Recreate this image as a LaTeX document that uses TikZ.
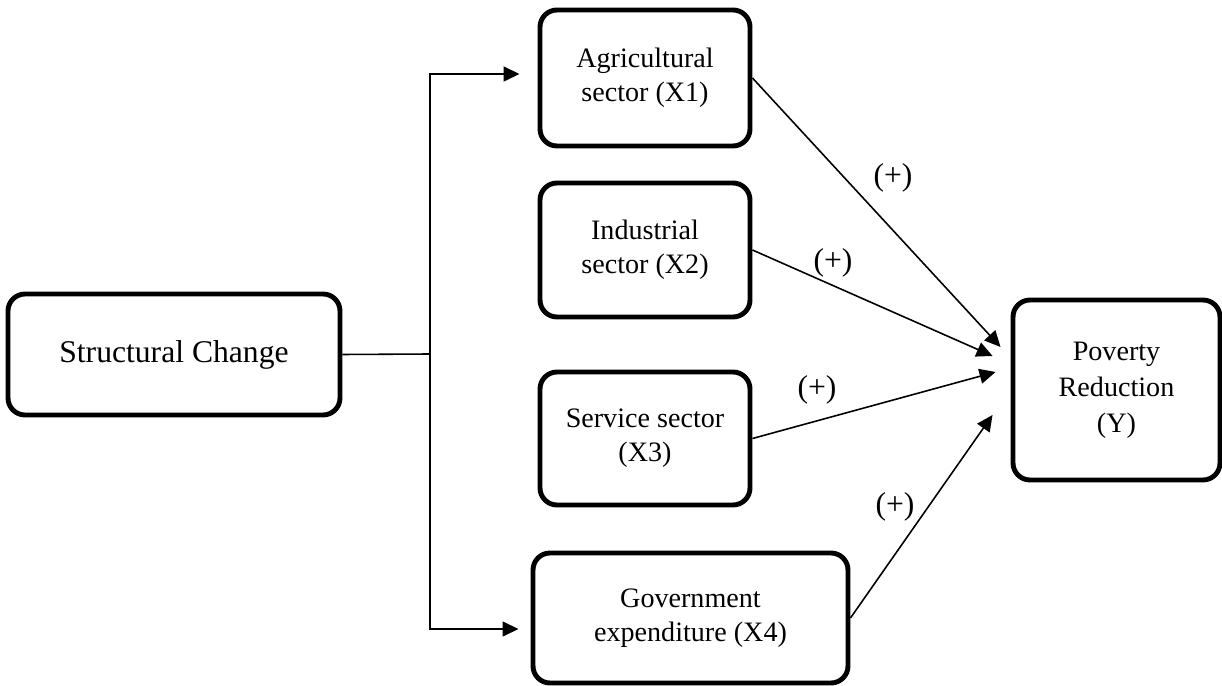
\documentclass[tikz,border=0pt]{standalone}
\usepackage{fontspec}
\setmainfont{Liberation Serif}
\usetikzlibrary{arrows.meta,calc}
\tikzset{
	box/.style={draw, line width=2.8pt, rounded corners=0.34cm, align=center,
		font=\fontsize{16}{19.5}\selectfont, inner sep=2pt},
	arr/.style={line width=0.9pt, -{Triangle[length=0.32cm, width=0.3cm]}},
	sign/.style={font=\fontsize{18}{20}\selectfont, inner sep=0pt}
}

\begin{document}
\begin{tikzpicture}
		%%%%% START %%%%%
		\useasboundingbox (0, 0) rectangle (24.44, -13.72);
		
		\node[box, minimum width=6.64cm, minimum height=2.42cm, font=\fontsize{18}{21}\selectfont] (sc) at (3.48, -7.09) {Structural Change};
		
		\node[box, minimum width=4.2cm, minimum height=2.72cm] (agri) at (12.9, -1.56) {Agricultural\\sector (X1)};
		\node[box, minimum width=4.2cm, minimum height=2.68cm] (ind) at (12.9, -5.0) {Industrial\\sector (X2)};
		\node[box, minimum width=4.2cm, minimum height=2.66cm] (serv) at (12.9, -8.77) {Service sector\\(X3)};
		\node[box, minimum width=6.3cm, minimum height=2.6cm] (gov) at (13.81, -12.36) {Government\\expenditure (X4)};
		
		\node[box, minimum width=4.14cm, minimum height=3.6cm, font=\fontsize{16}{20.5}\selectfont] (pov) at (22.33, -7.8) {Poverty\\Reduction\\(Y)};
		
		% split to the sectors
		\coordinate (split) at (8.6, -7.08);
		\draw[line width=0.9pt] (sc.east) -- (split);
		\draw[arr, shorten >=0.36cm] (split) |- ([yshift=0.08cm]agri.west);
		\draw[arr, shorten >=0.24cm] (split) |- ([yshift=-0.22cm]gov.west);
		
		% effects on poverty
		\draw[arr] (agri.east) -- ($(pov.west)+(-0.2, 0.86)$);
		\draw[arr] (ind.east) -- ($(pov.west)+(-0.36, 0.68)$);
		\draw[arr] (serv.east) -- ($(pov.west)+(-0.3, 0.36)$);
		\draw[arr] (gov.east) -- ($(pov.west)+(-0.36, -0.5)$);
		
		\node[sign] (s1) at (17.86, -3.56) {(+)};
		\node[sign] (s2) at (16.66, -5.26) {(+)};
		\node[sign] (s3) at (16.34, -7.8) {(+)};
		\node[sign] (s4) at (17.9, -10.14) {(+)};
		
		%%%%% END %%%%%
	\end{tikzpicture}
\end{document}
